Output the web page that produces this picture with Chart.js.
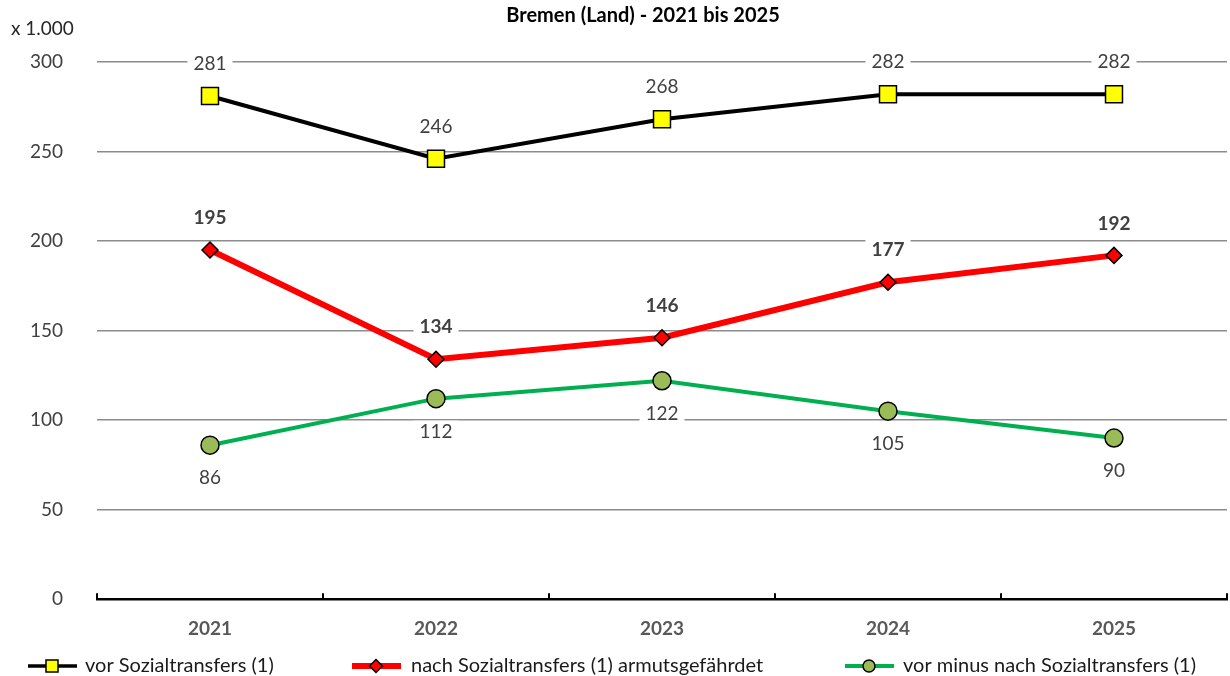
<!DOCTYPE html>
<html>
<head>
<meta charset="utf-8">
<script src="https://cdn.jsdelivr.net/npm/chart.js@4.4.1/dist/chart.umd.min.js"></script>
<style>
  html, body { margin: 0; padding: 0; background: #fff; }
  #wrap { width: 1230px; height: 676px; }
</style>
</head>
<body>
<div id="wrap"><canvas id="bremenChart" width="1230" height="676"></canvas></div>
<script>
// Werte aus der Grafik (x 1.000)
const jahre = ["2021", "2022", "2023", "2024", "2025"];
const vorSozialtransfers = [281, 246, 268, 282, 282];
const nachSozialtransfers = [195, 134, 146, 177, 192];
const vorMinusNach = [86, 112, 122, 105, 90];
const yTicks = [0, 50, 100, 150, 200, 250, 300];

const FONT = "Lato, 'Liberation Sans', sans-serif";

// Werte-Beschriftung mit weissem Hintergrund
const valueLabels = {
    id: "valueLabels",
    beforeDatasetsDraw(chart) {
        const ctx = chart.ctx;
        chart.data.datasets.forEach((ds, i) => {
            const meta = chart.getDatasetMeta(i);
            ctx.save();
            ctx.font = (ds.labelBold ? "bold " : "") + "19px " + FONT;
            ctx.textAlign = "center";
            ctx.textBaseline = "middle";
            meta.data.forEach((pt, j) => {
                const txt = String(ds.data[j]);
                const y = pt.y + ds.labelOffset;
                const w = ctx.measureText(txt).width;
                ctx.fillStyle = "#fff";
                ctx.fillRect(pt.x - w / 2 - 6, y - 11, w + 12, 22);
                ctx.fillStyle = "#404040";
                ctx.fillText(txt, pt.x, y);
            });
            ctx.restore();
        });
    }
};

// Titel, Einheit, Tickstriche nach innen, Legende unten
const extras = {
    id: "extras",
    afterDraw(chart) {
        const ctx = chart.ctx;
        const xs = chart.scales.x;
        const ys = chart.scales.y;
        ctx.save();
        ctx.fillStyle = "#000";
        ctx.font = "bold 20px " + FONT;
        ctx.textAlign = "center";
        ctx.textBaseline = "middle";
        ctx.fillText("Bremen (Land) - 2021 bis 2025", 643, 16);

        ctx.font = "19px " + FONT;
        ctx.textAlign = "left";
        ctx.fillStyle = "#262626";
        ctx.fillText("x 1.000", 11, 29);

        // kurze Striche zwischen den Kategorien
        const n = jahre.length;
        const step = (xs.right - xs.left) / n;
        ctx.strokeStyle = "#000";
        ctx.lineWidth = 2;
        for (let i = 0; i <= n; i++) {
            const x = xs.left + i * step;
            ctx.beginPath();
            ctx.moveTo(x, ys.bottom);
            ctx.lineTo(x, ys.bottom - 6);
            ctx.stroke();
        }

        // Legende
        const pos = [[28, 85], [352, 411], [845, 903]];
        const lw = [3.5, 6, 4];
        ctx.font = "20px " + FONT;
        ctx.textBaseline = "middle";
        chart.data.datasets.forEach((ds, i) => {
            const [x0, tx] = pos[i];
            const y = 666;
            ctx.strokeStyle = ds.borderColor;
            ctx.lineWidth = lw[i];
            ctx.beginPath();
            ctx.moveTo(x0, y);
            ctx.lineTo(x0 + 49, y);
            ctx.stroke();
            ctx.fillStyle = ds.pointBackgroundColor;
            ctx.strokeStyle = "#000";
            ctx.lineWidth = 1.5;
            Chart.helpers.drawPoint(ctx, {
                pointStyle: ds.pointStyle,
                radius: ds.legendRadius,
                rotation: 0,
                borderWidth: 1.5
            }, x0 + 24, y);
            ctx.fillStyle = "#1a1a1a";
            ctx.fillText(ds.label, tx, y);
        });
        ctx.restore();
    }
};

new Chart(document.getElementById("bremenChart"), {
    type: "line",
    data: {
        labels: jahre,
        datasets: [
            {
                label: "vor Sozialtransfers (1)",
                data: vorSozialtransfers,
                borderColor: "#000",
                borderWidth: 4,
                pointStyle: "rect",
                pointRadius: 12,
                pointBackgroundColor: "#ffff00",
                pointBorderColor: "#000",
                pointBorderWidth: 1.5,
                legendRadius: 8.5,
                labelOffset: -32,
                labelBold: false,
                tension: 0
            },
            {
                label: "nach Sozialtransfers (1) armutsgefährdet",
                data: nachSozialtransfers,
                borderColor: "#ff0000",
                borderWidth: 6,
                pointStyle: "rectRot",
                pointRadius: 8,
                pointBackgroundColor: "#ff0000",
                pointBorderColor: "#000",
                pointBorderWidth: 1.5,
                legendRadius: 6.5,
                labelOffset: -32,
                labelBold: true,
                tension: 0
            },
            {
                label: "vor minus nach Sozialtransfers (1)",
                data: vorMinusNach,
                borderColor: "#00b050",
                borderWidth: 4,
                pointStyle: "circle",
                pointRadius: 9,
                pointBackgroundColor: "#9bbb59",
                pointBorderColor: "#000",
                pointBorderWidth: 1.5,
                legendRadius: 6,
                labelOffset: 33,
                labelBold: false,
                tension: 0
            }
        ]
    },
    options: {
        responsive: false,
        animation: false,
        layout: { autoPadding: false, padding: { top: 62, right: 3, bottom: 26, left: 0 } },
        plugins: {
            legend: { display: false },
            title: { display: false },
            tooltip: { enabled: false }
        },
        scales: {
            x: {
                offset: true,
                grid: { display: false },
                border: { display: true, color: "#000", width: 2.5 },
                ticks: {
                    padding: 10,
                    color: "#595959",
                    font: { family: FONT, size: 19, weight: "bold" }
                }
            },
            y: {
                min: 0,
                max: 300,
                afterFit(scale) { scale.width = 97; },
                afterBuildTicks(scale) { scale.ticks = yTicks.map(v => ({ value: v })); },
                border: { display: false },
                grid: {
                    color: ctx => (ctx.tick && ctx.tick.value === 0 ? "rgba(0,0,0,0)" : "#8c8c8c"),
                    lineWidth: 1.5,
                    drawTicks: false
                },
                ticks: {
                    padding: 34,
                    color: "#404040",
                    font: { family: FONT, size: 19 }
                }
            }
        }
    },
    plugins: [valueLabels, extras]
});
</script>
</body>
</html>
